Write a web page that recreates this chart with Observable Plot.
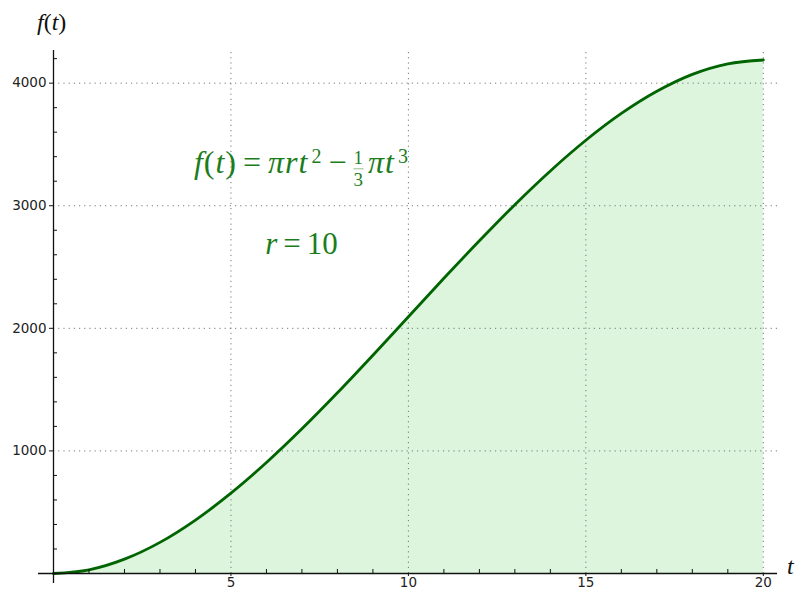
<!DOCTYPE html>
<html><head><meta charset="utf-8">
<script src="https://cdn.jsdelivr.net/npm/d3@7"></script>
<script src="https://cdn.jsdelivr.net/npm/@observablehq/plot@0.6"></script>
<style>
html,body{margin:0;padding:0;background:#fff;}
#wrap{position:relative;width:795px;height:591px;overflow:hidden;}
.math{position:absolute;font-family:"Liberation Serif","DejaVu Serif",serif;white-space:nowrap;line-height:1;}
.it{font-style:italic;}
.ann{color:#1b7d1b;font-size:31px;transform:translate(-50%,-50%);}
.ann.wide{font-size:32px;letter-spacing:1px;}
.ann sup{font-size:20px;vertical-align:0.5em;line-height:0;margin-left:3px;}
.op{margin:0 6px;}
.frac{display:inline-flex;flex-direction:column;align-items:center;font-size:19px;vertical-align:0.5em;margin:0 4px 0 0;line-height:1.05;}
.frac .den{border-top:1px solid rgba(27,125,27,0.5);padding-top:1px;}
.axlab{color:#111;font-size:24px;}
</style></head>
<body><div id="wrap"></div>
<script>
// t values and f(t)
const tValues = [0,1,2,3,4,5,6,7,8,9,10,11,12,13,14,15,16,17,18,19,20];
const fValues = [0,30,117,254,436,655,905,1180,1474,1781,2094,2408,2714,3009,3284,3534,3753,3934,4072,4158,4189];
const xMajorTicks = [5,10,15,20];
const xMinorTicks = [1,2,3,4,6,7,8,9,11,12,13,14,16,17,18,19];
const yMajorTicks = [1000,2000,3000,4000];
const yMinorTicks = [200,400,600,800,1200,1400,1600,1800,2200,2400,2600,2800,3200,3400,3600,3800,4200];
const annotations = [
  {t: 7, f: 3300, cls: "wide", html: '<span class="it">f</span>(<span class="it">t</span>)<span class="op">=</span><span class="it">&pi;rt</span><sup>2</sup><span class="op">&minus;</span><span class="frac"><span>1</span><span class="den">3</span></span><span class="it">&pi;t</span><sup>3</sup>'},
  {t: 7, f: 2690, cls: "", html: '<span class="it">r</span><span class="op">=</span>10'}
];

const data = tValues.map((t, i) => ({t, f: fValues[i]}));
const tickFont = {fontSize: 13.5, fontFamily: "DejaVu Sans", fill: "#222", label: null, tickFormat: d => String(d)};
const gridStyle = {stroke: "#777", strokeWidth: 1, strokeDasharray: "1.2,4"};

const plot = Plot.plot({
  width: 795,
  height: 591,
  marginLeft: 53,
  marginRight: 18,
  marginTop: 52,
  marginBottom: 18,
  style: {background: "white", overflow: "visible"},
  x: {domain: [0, 20.4]},
  y: {domain: [0, 4250]},
  marks: [
    Plot.areaY(data, {x: "t", y: "f", fill: "#dcf5dc", curve: "monotone-x"}),
    Plot.ruleX(xMajorTicks, gridStyle),
    Plot.ruleY(yMajorTicks, gridStyle),
    Plot.lineY(data, {x: "t", y: "f", stroke: "#006400", strokeWidth: 2.8, curve: "monotone-x"}),
    Plot.ruleY([0], {stroke: "#111", strokeWidth: 1.3, insetLeft: -15}),
    Plot.ruleX([0], {stroke: "#111", strokeWidth: 1.3, insetBottom: -10, insetTop: -2}),
    Plot.axisX(xMajorTicks, {tickSize: 3, tickPadding: 1, ...tickFont, stroke: "#111"}),
    Plot.axisX(xMinorTicks, {tickSize: -4, tickFormat: () => "", label: null, stroke: "#111"}),
    Plot.axisY(yMajorTicks, {tickSize: 4, tickPadding: 3, ...tickFont, stroke: "#111"}),
    Plot.axisY(yMinorTicks, {tickSize: -4, tickFormat: () => "", label: null, stroke: "#111"})
  ]
});

const wrap = document.getElementById("wrap");
wrap.appendChild(plot);
const sx = plot.scale("x"), sy = plot.scale("y");
for (const a of annotations) {
  const d = document.createElement("div");
  d.className = "math ann " + a.cls;
  d.innerHTML = a.html;
  d.style.left = sx.apply(a.t) + "px";
  d.style.top = sy.apply(a.f) + "px";
  wrap.appendChild(d);
}
const yl = document.createElement("div");
yl.className = "math axlab";
yl.innerHTML = '<span class="it">f</span>(<span class="it">t</span>)';
yl.style.left = "37px"; yl.style.top = "10px";
wrap.appendChild(yl);
const xl = document.createElement("div");
xl.className = "math axlab it";
xl.textContent = "t";
xl.style.left = "787px"; xl.style.top = "554px";
wrap.appendChild(xl);
</script>
</body></html>
